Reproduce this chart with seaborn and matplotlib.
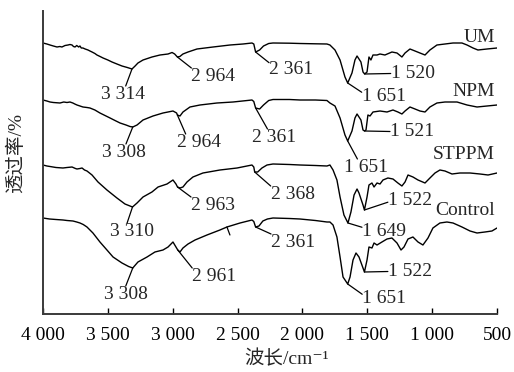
import matplotlib
matplotlib.use("Agg")
import matplotlib.pyplot as plt
import numpy as np
import pandas as pd
import seaborn as sns

# FTIR spectra: (wavenumber cm-1, transmittance in stacked arbitrary units)
um = [
    (4000, 271), (3970, 270), (3946, 269), (3920, 268), (3892, 267), (3870, 267.5),
    (3854, 267), (3830, 268.5), (3807, 269), (3792, 269.5), (3776, 269), (3765, 267.5),
    (3753, 267), (3740, 268.5), (3725, 267), (3715, 268), (3705, 266), (3692, 266),
    (3675, 265), (3653, 264), (3638, 263), (3622, 262), (3600, 260.5), (3584, 259),
    (3560, 257.5), (3537, 256), (3500, 254), (3468, 252), (3430, 250), (3391, 248),
    (3350, 246.5), (3314, 245), (3290, 248), (3268, 251), (3229, 254), (3160, 257),
    (3098, 259), (3036, 260), (3005, 261.5), (2985, 260), (2964, 257), (2945, 257.5),
    (2921, 260), (2882, 262), (2813, 265), (2689, 267), (2558, 269), (2458, 270),
    (2389, 271), (2375, 270), (2361, 262), (2330, 264), (2300, 268), (2260, 270.5),
    (2227, 271), (2100, 270.8), (2019, 270.5), (1900, 270.2), (1811, 270), (1788, 269),
    (1749, 264), (1710, 254), (1672, 237), (1651, 231), (1618, 241), (1595, 254),
    (1579, 258), (1549, 252), (1533, 242), (1520, 240), (1502, 242), (1487, 257),
    (1472, 254), (1456, 259), (1425, 259), (1402, 260), (1364, 259), (1310, 262),
    (1271, 261), (1233, 257), (1209, 261), (1171, 265), (1132, 263), (1094, 261),
    (1055, 259), (1017, 264), (963, 269), (901, 270), (839, 271), (770, 271),
    (731, 269), (685, 266), (647, 264), (577, 265), (500, 266),
]
npm = [
    (4000, 214), (3970, 213), (3946, 212), (3920, 211.5), (3869, 211), (3840, 212),
    (3815, 211.5), (3792, 212), (3770, 211), (3755, 210), (3738, 209), (3715, 208),
    (3692, 207), (3661, 206.5), (3638, 206), (3600, 204), (3561, 201), (3522, 198.5),
    (3483, 196), (3445, 193.5), (3406, 191), (3360, 189), (3330, 187.5), (3308, 187),
    (3275, 189), (3229, 194), (3152, 198), (3075, 201), (2998, 203), (2970, 201),
    (2964, 199), (2944, 198), (2921, 202), (2867, 207), (2790, 209), (2659, 211),
    (2535, 212), (2389, 214), (2375, 212.5), (2361, 206), (2330, 205), (2300, 209),
    (2260, 213.5), (2227, 214.5), (2100, 214.5), (2019, 214), (1900, 214), (1811, 213.5),
    (1788, 211), (1749, 208), (1710, 196), (1672, 179), (1651, 173), (1618, 183),
    (1595, 196), (1579, 200), (1549, 194), (1533, 184), (1521, 183), (1510, 184),
    (1495, 199), (1479, 198), (1456, 202), (1402, 203), (1348, 202), (1302, 204),
    (1264, 202), (1233, 200), (1209, 203), (1171, 207), (1132, 205), (1094, 203),
    (1055, 202), (1017, 207), (963, 211), (901, 212), (808, 212), (731, 209),
    (654, 207), (577, 208), (500, 209),
]
stppm = [
    (4000, 149), (3970, 148), (3946, 147.5), (3900, 146.5), (3846, 146), (3815, 146.5),
    (3776, 147), (3750, 145.5), (3738, 145), (3715, 145.5), (3699, 146), (3680, 144),
    (3661, 143), (3622, 139), (3576, 132), (3507, 124), (3430, 116), (3368, 110),
    (3310, 107), (3275, 111), (3229, 117), (3160, 122), (3113, 127), (3044, 130),
    (2998, 134), (2975, 130), (2963, 127), (2944, 126), (2921, 127), (2890, 132),
    (2844, 137), (2767, 141), (2636, 144), (2504, 146), (2389, 149), (2375, 147),
    (2368, 142), (2345, 142), (2312, 146), (2273, 149), (2227, 150), (2100, 149.5),
    (2019, 149), (1900, 148.5), (1811, 148), (1788, 149), (1764, 144), (1734, 134),
    (1710, 117), (1680, 99), (1649, 91), (1626, 102), (1602, 119), (1579, 125),
    (1564, 121), (1533, 109), (1522, 104), (1502, 117), (1487, 129), (1464, 131),
    (1448, 127), (1425, 131), (1402, 130), (1379, 134), (1341, 136), (1302, 135),
    (1264, 131), (1233, 128), (1209, 132), (1186, 139), (1148, 137), (1109, 134),
    (1055, 131), (1017, 136), (978, 141), (940, 144), (901, 143), (847, 140),
    (786, 141), (708, 141), (631, 140), (569, 139), (500, 141),
]
control = [
    (4000, 96), (3950, 95), (3900, 94.5), (3846, 94), (3815, 93.5), (3769, 93),
    (3740, 92), (3715, 91), (3690, 89.5), (3661, 87), (3615, 81), (3561, 72),
    (3507, 64), (3460, 57), (3391, 51), (3340, 47.5), (3308, 46), (3268, 52),
    (3198, 57), (3137, 62), (3075, 64), (3036, 67), (2998, 72), (2975, 67),
    (2961, 64), (2944, 62), (2921, 66), (2882, 70), (2828, 74), (2736, 79),
    (2636, 84), (2582, 87), (2481, 91), (2389, 94), (2375, 92.5), (2361, 87),
    (2335, 88), (2305, 93), (2270, 95), (2227, 96), (2100, 95.5), (2019, 95),
    (1900, 93.5), (1811, 92), (1788, 92), (1764, 89), (1734, 77), (1710, 57),
    (1687, 37), (1651, 30), (1633, 37), (1610, 54), (1587, 61), (1564, 57),
    (1533, 46), (1522, 42), (1502, 54), (1487, 67), (1464, 66), (1448, 71),
    (1425, 69), (1387, 72), (1348, 75), (1310, 76), (1271, 71), (1240, 64),
    (1217, 67), (1186, 75), (1148, 77), (1109, 72), (1071, 69), (1032, 76),
    (994, 86), (940, 91), (886, 92), (839, 91), (770, 87), (708, 83),
    (654, 81), (593, 82), (539, 83), (500, 86),
]

samples = ["UM", "NPM", "STPPM", "Control"]
spectra = {"UM": um, "NPM": npm, "STPPM": stppm, "Control": control}

# labelled band positions (cm-1) for each sample
bands = {
    "UM": [3314, 2964, 2361, 1520, 1651],
    "NPM": [3308, 2964, 2361, 1521, 1651],
    "STPPM": [3310, 2963, 2368, 1522, 1649],
    "Control": [3308, 2961, 2361, 1522, 1651],
}

x_ticks = [4000, 3500, 3000, 2500, 2000, 1500, 1000, 500]
x_tick_labels = ["4 000", "3 500", "3 000", "2 500", "2 000", "1 500", "1 000", "500"]

# label placement: (dx, dy) in pixels from the band point to the text anchor,
# and the point on the text box where the leader line ends
label_layout = {
    "UM": [(-8.5, -30, (0.55, 1.0)), (36, -24, (0.0, 1.0)), (35.5, -22, (0.0, 0.9)),
           (48, -4, (0.0, 0.5)), (36, -18, (0.0, 0.75))],
    "NPM": [(-9, -30, (0.55, 1.0)), (21.5, -32, (0.2, 1.0)), (18.5, -34, (0.35, 1.0)),
            (47.5, -5, (0.0, 0.5)), (18.5, -31, (0.3, 1.0))],
    "STPPM": [(-1, -29, (0.4, 1.0)), (35.5, -23, (0.0, 1.0)), (38, -27, (0.0, 1.0)),
              (45.5, 5, (0.0, 0.4)), (36, -13, (0.0, 0.75))],
    "Control": [(-7, -31, (0.5, 1.0)), (36.5, -31, (0.0, 1.0)), (37.5, -20, (0.0, 1.0)),
                (45.5, -4, (0.0, 0.5)), (36.5, -19, (0.0, 0.75))],
}
name_offsets = {"UM": 6, "NPM": 9, "STPPM": 14, "Control": 13}

df = pd.concat(
    [pd.DataFrame(spectra[s], columns=["wn", "T"]).assign(sample=s) for s in samples],
    ignore_index=True,
)

sns.set_theme(style="ticks")
plt.rcParams["font.family"] = ["Liberation Serif", "DejaVu Serif", "Noto Sans CJK SC"]
plt.rcParams["axes.unicode_minus"] = False

fig = plt.figure(figsize=(5.14, 3.72), dpi=100)
ax = fig.add_axes([43 / 514, 58 / 372, 454 / 514, 303 / 372])

sns.lineplot(
    data=df, x="wn", y="T", hue="sample", units="sample", estimator=None,
    palette={s: "black" for s in samples}, legend=False, linewidth=1.0, ax=ax,
)

fs = 14
line_kw = dict(arrowstyle="-", color="black", lw=0.9, shrinkA=0, shrinkB=0, patchA=None)

for s in samples:
    pts = sorted(spectra[s])
    wn_arr = np.array([p[0] for p in pts], dtype=float)
    t_arr = np.array([p[1] for p in pts], dtype=float)
    for band, (dx, dy, rel) in zip(bands[s], label_layout[s]):
        t = np.interp(band, wn_arr, t_arr)
        lab = f"{band // 1000} {band % 1000:03d}"
        ax.annotate(
            lab, xy=(band, t), xytext=(dx, dy), textcoords="offset pixels",
            ha="center", va="baseline", fontsize=fs,
            arrowprops=dict(relpos=rel, **line_kw),
        )
    # sample name at the right end of each trace
    ax.annotate(
        s, xy=(500, t_arr[0]), xytext=(-2, name_offsets[s]), textcoords="offset pixels",
        ha="right", va="baseline", fontsize=fs,
    )

# short unlabelled marker on the Control trace
ctrl_pts = sorted(control)
ctrl_t = np.interp(2582, [p[0] for p in ctrl_pts], [p[1] for p in ctrl_pts])
ax.annotate("", xy=(2582, ctrl_t), xytext=(3, -8), textcoords="offset pixels",
            arrowprops=dict(arrowstyle="-", color="black", lw=0.9, shrinkA=0, shrinkB=0))

ax.set_xlim(4000, 500)
ax.set_ylim(0, 303)
ax.set_xticks(x_ticks)
ax.set_xticklabels(x_tick_labels)
ax.set_yticks([])
ax.tick_params(axis="x", direction="in", length=4.5, width=1, pad=9,
               labelsize=fs, colors="black")
for side in ["top", "right"]:
    ax.spines[side].set_visible(False)
for side in ["left", "bottom"]:
    ax.spines[side].set_linewidth(1.4)
    ax.spines[side].set_color("#3a3a3a")

ax.set_xlabel("波长/cm⁻¹", fontsize=fs)
ax.xaxis.set_label_coords(0.537, -0.118)
ax.set_ylabel("透过率/%", fontsize=fs)
ax.yaxis.set_label_coords(-0.04, 0.53)

fig.savefig("out.png", dpi=100)
